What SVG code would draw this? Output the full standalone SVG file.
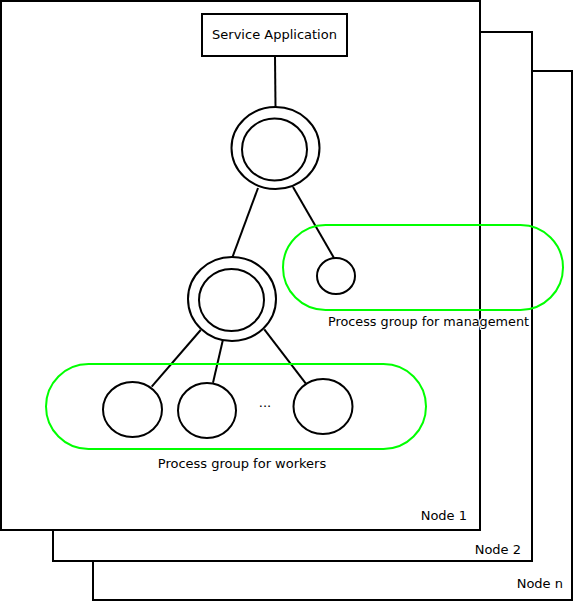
<svg xmlns="http://www.w3.org/2000/svg" width="573" height="601" viewBox="0 0 573 601">
<style>
.node{fill:#fff;stroke:#000;stroke-width:2}
.circ{fill:#fff;stroke:#000;stroke-width:2}
.grp{fill:none;stroke:#00ff00;stroke-width:2}
.edge{stroke:#000;stroke-width:2;fill:none}
text{font-family:"DejaVu Sans","Liberation Sans",sans-serif;font-size:13px;fill:#000}
.lbl{stroke:#fff;stroke-width:2.5;paint-order:stroke;stroke-linejoin:round}
</style>
<g id="node-n"><rect class="node" x="93" y="71" width="479" height="529"/><text x="563" y="588" text-anchor="end">Node n</text></g>
<g id="node-2"><rect class="node" x="53" y="32" width="479" height="529"/><text x="521" y="554" text-anchor="end">Node 2</text></g>
<g id="node-1"><rect class="node" x="1" y="1" width="479" height="529"/><text x="467" y="520" text-anchor="end">Node 1</text></g>
<g id="connectors">
<line class="edge" x1="275" y1="56" x2="275.5" y2="107"/>
<line class="edge" x1="258" y1="188" x2="232.5" y2="257"/>
<line class="edge" x1="293" y1="187" x2="334" y2="258"/>
<line class="edge" x1="200.7" y1="330" x2="151.7" y2="386.7"/>
<line class="edge" x1="222.7" y1="340.7" x2="213" y2="382.7"/>
<line class="edge" x1="264.3" y1="329.3" x2="305.7" y2="383.3"/>
</g>
<g id="service-application"><rect class="node" x="202" y="14" width="145" height="42"/><text x="274.5" y="39" text-anchor="middle">Service Application</text></g>
<g id="master"><ellipse class="circ" cx="275.5" cy="148" rx="44" ry="41"/><ellipse class="circ" cx="274.5" cy="149.5" rx="32.5" ry="31"/></g>
<g id="sub-master"><ellipse class="circ" cx="232" cy="299" rx="44" ry="42"/><ellipse class="circ" cx="231.5" cy="300" rx="32.5" ry="31"/></g>
<g id="management-group"><rect class="grp" x="283" y="225" width="280" height="85" rx="42.5" ry="42.5"/><text class="lbl" x="428.5" y="326" text-anchor="middle" textLength="201" lengthAdjust="spacingAndGlyphs">Process group for management</text></g>
<g id="manager"><ellipse class="circ" cx="336" cy="276" rx="19" ry="18"/></g>
<g id="workers-group"><rect class="grp" x="46" y="364" width="380" height="85" rx="42.5" ry="42.5"/><text x="242" y="468" text-anchor="middle">Process group for workers</text></g>
<g id="worker-1"><ellipse class="circ" cx="132.5" cy="409.5" rx="29.5" ry="27.5"/></g>
<g id="worker-2"><ellipse class="circ" cx="207" cy="410.5" rx="29" ry="27.5"/></g>
<g id="worker-dots"><text x="265" y="407" text-anchor="middle">...</text></g>
<g id="worker-n"><ellipse class="circ" cx="323" cy="406.5" rx="29.5" ry="27.5"/></g>
</svg>
